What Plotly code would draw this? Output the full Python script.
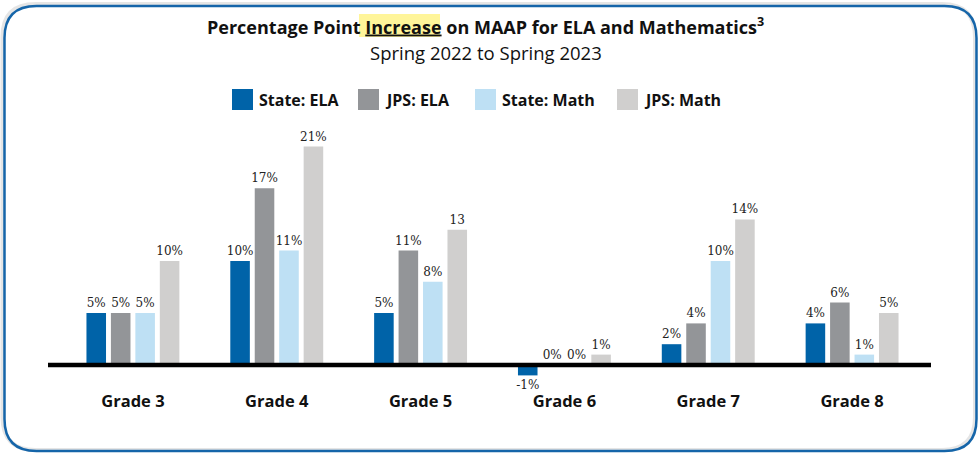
import plotly.graph_objects as go

categories = ["Grade 3", "Grade 4", "Grade 5", "Grade 6", "Grade 7", "Grade 8"]
series_names = ["State: ELA", "JPS: ELA", "State: Math", "JPS: Math"]
state_ela = [5, 10, 5, -1, 2, 4]
jps_ela = [5, 17, 11, 0, 4, 6]
state_math = [5, 11, 8, 0, 10, 1]
jps_math = [10, 21, 13, 1, 14, 5]
state_ela_lbl = ["5%", "10%", "5%", "-1%", "2%", "4%"]
jps_ela_lbl = ["5%", "17%", "11%", "0%", "4%", "6%"]
state_math_lbl = ["5%", "11%", "8%", "0%", "10%", "1%"]
jps_math_lbl = ["10%", "21%", "13", "1%", "14%", "5%"]
colors = ["#0063a8", "#939598", "#bee0f4", "#d0cfce"]

W, H = 980, 456
L, R, T, B = 61, 56, 140, 72
PW, PH = W - L - R, H - T - B

def px(x):
    return (x - L) / PW

def py(y):
    return (H - B - y) / PH

fig = go.Figure()
values = [state_ela, jps_ela, state_math, jps_math]
labels = [state_ela_lbl, jps_ela_lbl, state_math_lbl, jps_math_lbl]
for name, vals, lbl, col in zip(series_names, values, labels, colors):
    fig.add_trace(go.Bar(
        x=categories, y=vals, name=name, marker=dict(color=col, line=dict(width=0)),
        text=lbl, textposition="outside", cliponaxis=False, constraintext="none",
        textfont=dict(family="DejaVu Serif", size=12, color="#222222"),
        showlegend=False, hoverinfo="skip",
    ))

shapes = []
annotations = []

def rounded(x0, y0, x1, y1, r):
    def P(x, y):
        return f"{px(x):.5f},{py(y):.5f}"
    return (f"M {P(x0+r, y0)} L {P(x1-r, y0)} Q {P(x1, y0)} {P(x1, y0+r)} "
            f"L {P(x1, y1-r)} Q {P(x1, y1)} {P(x1-r, y1)} L {P(x0+r, y1)} "
            f"Q {P(x0, y1)} {P(x0, y1-r)} L {P(x0, y0+r)} Q {P(x0, y0)} {P(x0+r, y0)} Z")

# soft shadow + rounded border
shapes.append(dict(type="path", xref="paper", yref="paper", path=rounded(2.5, 4, 975, 450, 33),
                   line=dict(color="rgba(0,0,0,0.10)", width=4), layer="below"))
shapes.append(dict(type="path", xref="paper", yref="paper", path=rounded(4.5, 6, 976.5, 451, 32),
                   line=dict(color="#1565a9", width=2.5), layer="below"))

# zero line
shapes.append(dict(type="line", xref="paper", yref="y", x0=px(48), x1=px(931), y0=0, y1=0,
                   line=dict(color="#000000", width=4.5), layer="above"))

# highlight behind "Increase"
shapes.append(dict(type="rect", xref="paper", yref="paper", x0=px(359), x1=px(440), y0=py(37), y1=py(14),
                   fillcolor="#fff59a", line=dict(width=0), layer="below"))

# title
annotations.append(dict(xref="paper", yref="paper", x=px(485), y=py(26), xanchor="center", yanchor="middle",
                        showarrow=False,
                        text="<b>Percentage Point <u>Increase</u> on MAAP for ELA and Mathematics<sup>3</sup></b>",
                        font=dict(family="Open Sans", size=18, color="#111111")))
annotations.append(dict(xref="paper", yref="paper", x=px(486), y=py(52), xanchor="center", yanchor="middle",
                        showarrow=False, text="Spring 2022 to Spring 2023",
                        font=dict(family="Open Sans", size=18.5, color="#111111")))

# legend
leg_x = [232, 358, 475, 617]
for name, col, lx in zip(series_names, colors, leg_x):
    shapes.append(dict(type="rect", xref="paper", yref="paper", x0=px(lx), x1=px(lx + 21),
                       y0=py(110), y1=py(89), fillcolor=col, line=dict(width=0)))
    annotations.append(dict(xref="paper", yref="paper", x=px(lx + 25), y=py(99.5), xanchor="left",
                            yanchor="middle", showarrow=False, text=f"<b>{name}</b>",
                            font=dict(family="Open Sans", size=16, color="#111111")))

fig.update_layout(
    width=W, height=H, margin=dict(l=L, r=R, t=T, b=B),
    paper_bgcolor="white", plot_bgcolor="white",
    barmode="group", bargap=0.32, bargroupgap=0.2,
    shapes=shapes, annotations=annotations,
    xaxis=dict(showgrid=False, zeroline=False, showline=False, ticks="",
               tickfont=dict(family="Open Sans", size=16.5, color="#111111"),
               ticklabelstandoff=5, fixedrange=True),
    yaxis=dict(range=[-19 / 10.4, (244 - 19) / 10.4], showgrid=False, zeroline=False,
               showticklabels=False, showline=False, fixedrange=True),
    font=dict(family="Open Sans"),
    hovermode=False,
)
fig.update_xaxes(tickvals=categories, ticktext=[f"<b>{c}</b>" for c in categories])

fig.write_html("out.html", config={"displayModeBar": False, "staticPlot": True},
               post_script="document.body.style.margin='0';document.body.style.overflow='hidden';")
